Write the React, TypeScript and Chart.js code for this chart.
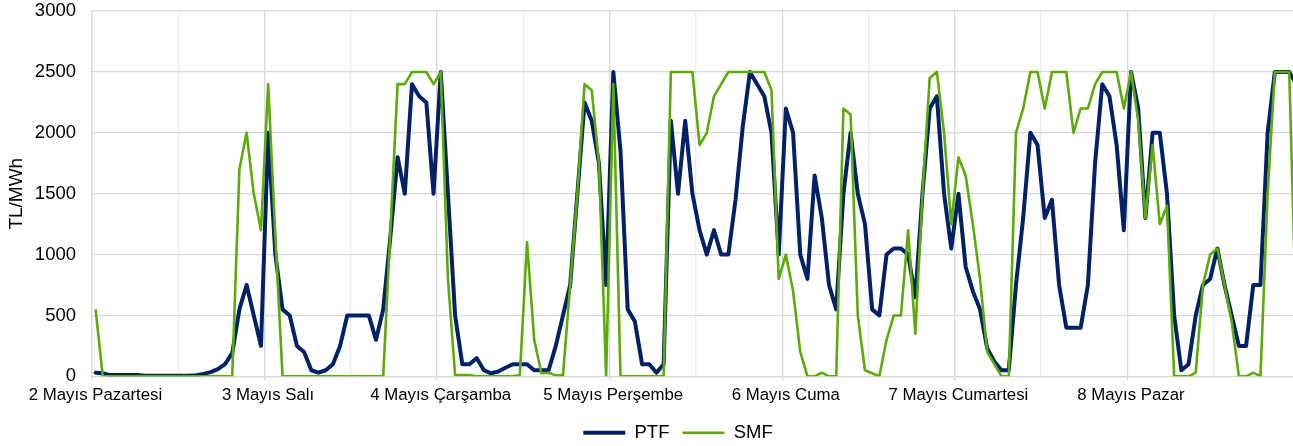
import React, { useEffect, useRef } from "react";
import { Chart, registerables } from "chart.js";

Chart.register(...registerables);

// Day labels (one per 24 hourly points)
const dayLabels = [
  "2 Mayıs Pazartesi",
  "3 Mayıs Salı",
  "4 Mayıs Çarşamba",
  "5 Mayıs Perşembe",
  "6 Mayıs Cuma",
  "7 Mayıs Cumartesi",
  "8 Mayıs Pazar",
];

// PTF hourly values (TL/MWh), 7 days x 24 hours
const ptf = [
  // 2 Mayıs
  30, 25, 10, 10, 10, 10, 10, 5, 5, 5, 5, 5, 5, 5, 10, 20, 35, 60, 100, 190, 550, 750, 500, 250,
  // 3 Mayıs
  2000, 1000, 550, 500, 250, 200, 50, 30, 50, 100, 250, 500, 500, 500, 500, 300, 550, 1150, 1800, 1500, 2400, 2300, 2250, 1500,
  // 4 Mayıs
  2500, 1500, 500, 100, 100, 150, 50, 25, 40, 70, 100, 100, 100, 50, 50, 50, 250, 500, 750, 1500, 2250, 2100, 1750, 750,
  // 5 Mayıs
  2500, 1850, 550, 450, 100, 100, 30, 100, 2100, 1500, 2100, 1500, 1200, 1000, 1200, 1000, 1000, 1450, 2050, 2500, 2400, 2300, 2000, 1000,
  // 6 Mayıs
  2200, 2000, 1000, 800, 1650, 1300, 750, 550, 1500, 2000, 1500, 1250, 550, 500, 1000, 1050, 1050, 1000, 650, 1500, 2200, 2300, 1500, 1050,
  // 7 Mayıs
  1500, 900, 700, 550, 230, 120, 50, 50, 750, 1300, 2000, 1900, 1300, 1450, 750, 400, 400, 400, 750, 1750, 2400, 2300, 1900, 1200,
  // 8 Mayıs
  2500, 2200, 1300, 2000, 2000, 1500, 500, 50, 100, 500, 750, 800, 1050, 750, 500, 250, 250, 750, 750, 2000, 2500, 2500, 2500, 2400,
];

// SMF hourly values (TL/MWh)
const smf = [
  // 2 Mayıs
  550, 0, 0, 0, 0, 0, 0, 0, 0, 0, 0, 0, 0, 0, 0, 0, 0, 0, 0, 0, 1700, 2000, 1500, 1200,
  // 3 Mayıs
  2400, 1150, 0, 0, 0, 0, 0, 0, 0, 0, 0, 0, 0, 0, 0, 0, 0, 1200, 2400, 2400, 2500, 2500, 2500, 2400,
  // 4 Mayıs
  2500, 800, 10, 10, 10, 0, 0, 0, 0, 0, 0, 10, 1100, 300, 25, 30, 8, 8, 750, 1500, 2400, 2350, 1750, 0,
  // 5 Mayıs
  2400, 0, 0, 0, 0, 0, 0, 0, 2500, 2500, 2500, 2500, 1900, 2000, 2300, 2400, 2500, 2500, 2500, 2500, 2500, 2500, 2350, 800,
  // 6 Mayıs
  1000, 700, 200, 0, 0, 30, 0, 0, 2200, 2150, 500, 50, 25, 0, 300, 500, 500, 1200, 350, 1500, 2450, 2500, 2000, 1250,
  // 7 Mayıs
  1800, 1650, 1250, 800, 200, 100, 0, 0, 2000, 2200, 2500, 2500, 2200, 2500, 2500, 2500, 2000, 2200, 2200, 2400, 2500, 2500, 2500, 2200,
  // 8 Mayıs
  2500, 2100, 1300, 1900, 1250, 1400, 0, 0, 0, 30, 750, 1000, 1050, 750, 450, 0, 0, 30, 0, 1500, 2500, 2500, 2500, 400,
];

const yTicks = [0, 500, 1000, 1500, 2000, 2500, 3000];

const FONT = "Arial, 'Liberation Sans', sans-serif";
const CANVAS_W = 1356;
const CANVAS_H = 452;
const PLOT_LEFT = 92;
const HOURS = 168;
const PLOT_RIGHT_AT_END = 1300; // x pixel of the end of the 168th hour

export default function App() {
  const ref = useRef<HTMLCanvasElement | null>(null);

  useEffect(() => {
    if (!ref.current) return;
    const gridVals: number[] = [];
    for (let k = 0; k <= HOURS / 12; k++) gridVals.push(-0.5 + 12 * k);
    const xMax = -0.5 + ((CANVAS_W - PLOT_LEFT) * HOURS) / (PLOT_RIGHT_AT_END - PLOT_LEFT);
    const isDay = (v: number) => Math.round((v + 0.5) / 12) % 2 === 0;

    const chart = new Chart(ref.current, {
      type: "line",
      data: {
        datasets: [
          {
            label: "PTF",
            data: ptf.map((y, i) => ({ x: i, y })),
            borderColor: "#032265",
            backgroundColor: "#032265",
            borderWidth: 4,
            pointRadius: 0,
            tension: 0,
            borderJoinStyle: "round",
            borderCapStyle: "round",
            order: 1,
          },
          {
            label: "SMF",
            data: smf.map((y, i) => ({ x: i, y })),
            borderColor: "#5cab0b",
            backgroundColor: "#5cab0b",
            borderWidth: 2.6,
            pointRadius: 0,
            tension: 0,
            borderJoinStyle: "round",
            borderCapStyle: "butt",
            order: 0,
          },
        ],
      },
      options: {
        responsive: false,
        animation: false,
        events: [],
        layout: { padding: 0 },
        scales: {
          x: {
            type: "linear",
            min: -0.5,
            max: xMax,
            offset: false,
            afterBuildTicks: (scale: any) => {
              scale.ticks = gridVals.map((v) => ({ value: v }));
            },
            ticks: {
              autoSkip: false,
              maxRotation: 0,
              minRotation: 0,
              padding: 5,
              labelOffset: 3.5,
              color: "#000",
              font: { family: FONT, size: 16.8 },
              callback: (value: any) => {
                const k = Math.round((Number(value) + 0.5) / 12);
                if (k % 2 === 0 && k / 2 < dayLabels.length) return dayLabels[k / 2];
                return "";
              },
            },
            grid: {
              color: (ctx: any) => (ctx.tick && isDay(ctx.tick.value) ? "#d9d9d9" : "#ececec"),
              tickColor: (ctx: any) => (ctx.tick && isDay(ctx.tick.value) ? "#d9d9d9" : "rgba(0,0,0,0)"),
              tickLength: 4,
              lineWidth: 1.3,
            },
            border: { color: "#d9d9d9", width: 1.3 },
          },
          y: {
            min: 0,
            max: 3000,
            afterBuildTicks: (scale: any) => {
              scale.ticks = yTicks.map((v) => ({ value: v }));
            },
            afterFit: (scale: any) => {
              scale.width = PLOT_LEFT;
            },
            ticks: {
              padding: 0,
              color: "#000",
              font: { family: FONT, size: 18.5 },
              callback: (value: any) => String(value),
            },
            grid: {
              color: "#d9d9d9",
              drawTicks: true,
              tickLength: 16,
              tickColor: "rgba(0,0,0,0)",
              lineWidth: 1.3,
            },
            border: { color: "#d9d9d9", width: 1.3 },
            title: {
              display: true,
              text: "TL/MWh",
              color: "#000",
              font: { family: FONT, size: 19 },
              padding: { top: 5, bottom: 0 },
            },
          },
        },
        plugins: {
          tooltip: { enabled: false },
          legend: {
            display: true,
            position: "bottom",
            labels: {
              usePointStyle: true,
              pointStyle: "line",
              pointStyleWidth: 42,
              padding: 13,
              color: "#000",
              font: { family: FONT, size: 18.5 },
              sort: (a: any, b: any) => a.datasetIndex - b.datasetIndex,
            },
          },
        },
      } as any,
    });
    return () => chart.destroy();
  }, []);

  return (
    <div
      style={{
        position: "fixed",
        left: 0,
        top: 0,
        width: 1293,
        height: 446,
        overflow: "hidden",
        background: "#fff",
      }}
    >
      <canvas
        ref={ref}
        width={CANVAS_W}
        height={CANVAS_H}
        style={{ display: "block", width: CANVAS_W, height: CANVAS_H }}
      />
    </div>
  );
}
